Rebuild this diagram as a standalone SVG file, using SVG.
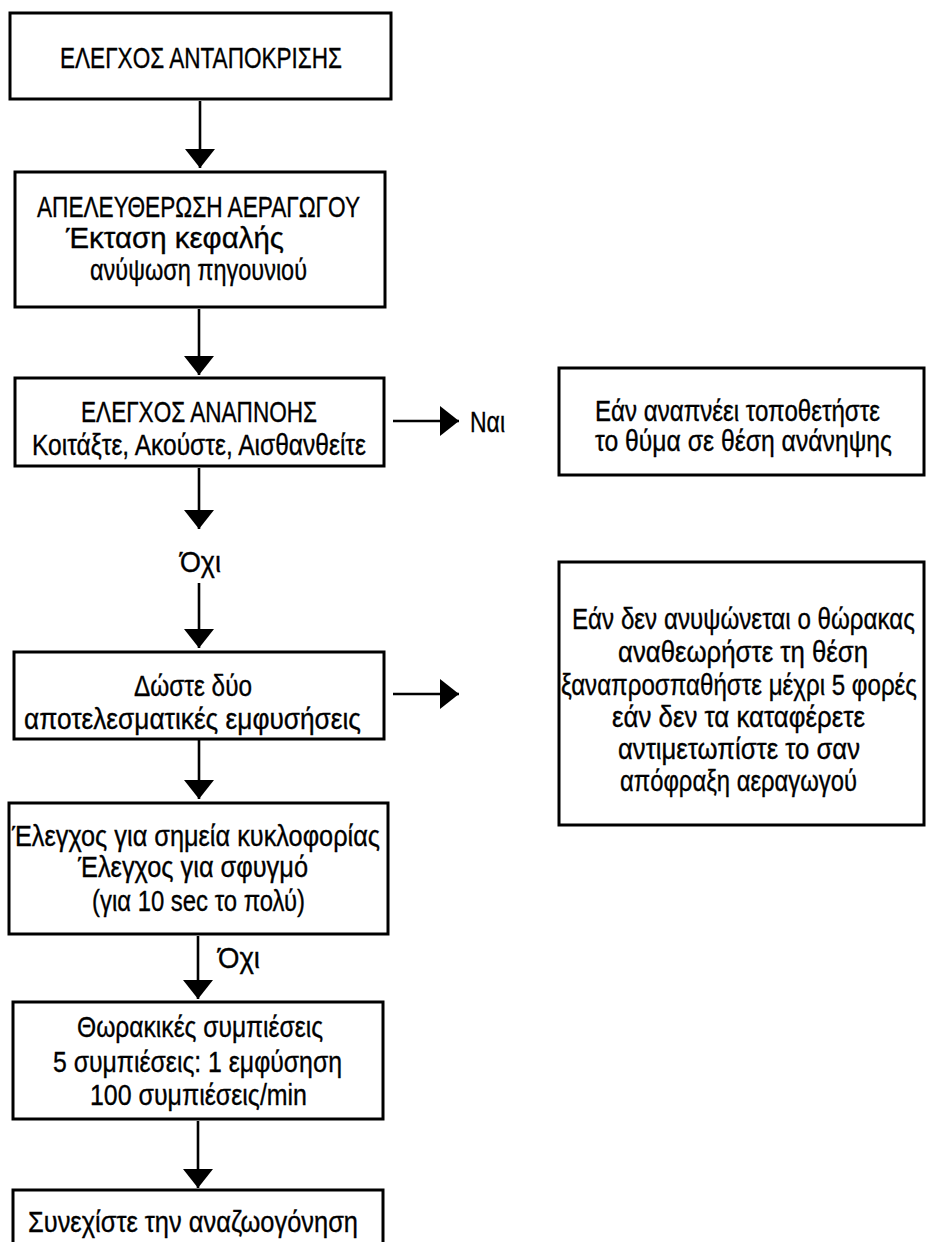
<svg xmlns="http://www.w3.org/2000/svg" width="927" height="1242" viewBox="0 0 927 1242">
<style>
.box{fill:#fff;stroke:#000;stroke-width:3}
.t{font-family:"Liberation Sans Narrow","Liberation Sans",Arial,sans-serif;font-size:29px;fill:#000;stroke:#000;stroke-width:0.35}
.c{stroke:#000;stroke-width:2.6;fill:none}
</style>
<defs>
<marker id="ah" markerUnits="userSpaceOnUse" markerWidth="19" markerHeight="30" viewBox="0 0 19 30" refX="19" refY="15" orient="auto">
<path d="M0,0 L19,15 L0,30 Z" fill="#000"/>
</marker>
</defs>
<rect width="927" height="1242" fill="#fff"/>
<g id="connectors">
<line class="c" x1="200" y1="101" x2="200" y2="168" marker-end="url(#ah)"/>
<line class="c" x1="199" y1="309" x2="199" y2="375" marker-end="url(#ah)"/>
<line class="c" x1="393" y1="421" x2="459" y2="421" marker-end="url(#ah)"/>
<line class="c" x1="199" y1="468" x2="199" y2="529" marker-end="url(#ah)"/>
<line class="c" x1="199" y1="583" x2="199" y2="648" marker-end="url(#ah)"/>
<line class="c" x1="393" y1="694" x2="459" y2="694" marker-end="url(#ah)"/>
<line class="c" x1="199" y1="740" x2="199" y2="799" marker-end="url(#ah)"/>
<line class="c" x1="198" y1="936" x2="198" y2="999" marker-end="url(#ah)"/>
<line class="c" x1="198" y1="1121" x2="198" y2="1188" marker-end="url(#ah)"/>
</g>
<g id="n1">
<rect class="box" x="10" y="13" width="381" height="86"/>
<text class="t" x="60" y="68" textLength="282" lengthAdjust="spacingAndGlyphs">ΕΛΕΓΧΟΣ ΑΝΤΑΠΟΚΡΙΣΗΣ</text>
</g>
<g id="n2">
<rect class="box" x="15" y="172" width="370" height="135"/>
<text class="t" x="37" y="217" textLength="323" lengthAdjust="spacingAndGlyphs">ΑΠΕΛΕΥΘΕΡΩΣΗ ΑΕΡΑΓΩΓΟΥ</text>
<text class="t" x="66" y="248" textLength="218" lengthAdjust="spacingAndGlyphs">&#x388;&#x3BA;&#x3C4;&#x3B1;&#x3C3;&#x3B7; &#x3BA;&#x3B5;&#x3C6;&#x3B1;&#x3BB;&#x3AE;&#x3C2;</text>
<text class="t" x="90" y="280" textLength="217" lengthAdjust="spacingAndGlyphs">ανύψωση πηγουνιού</text>
</g>
<g id="n3">
<rect class="box" x="15" y="378" width="369" height="88"/>
<text class="t" x="81" y="422" textLength="236" lengthAdjust="spacingAndGlyphs">ΕΛΕΓΧΟΣ ΑΝΑΠΝΟΗΣ</text>
<text class="t" x="32" y="455" textLength="334" lengthAdjust="spacingAndGlyphs">Κοιτάξτε, Ακούστε, Αισθανθείτε</text>
</g>
<g id="lbl-nai">
<text class="t" x="470" y="432" textLength="35" lengthAdjust="spacingAndGlyphs">Ναι</text>
</g>
<g id="n-right1">
<rect class="box" x="559" y="368" width="365" height="107"/>
<text class="t" x="595" y="421" textLength="285" lengthAdjust="spacingAndGlyphs">Εάν αναπνέει τοποθετήστε</text>
<text class="t" x="595" y="451" textLength="297" lengthAdjust="spacingAndGlyphs">το θύμα σε θέση ανάνηψης</text>
</g>
<g id="lbl-oxi1">
<text class="t" x="180" y="572" textLength="41" lengthAdjust="spacingAndGlyphs">Όχι</text>
</g>
<g id="n4">
<rect class="box" x="14" y="652" width="370" height="87"/>
<text class="t" x="134" y="696" textLength="118" lengthAdjust="spacingAndGlyphs">Δώστε δύο</text>
<text class="t" x="24" y="729" textLength="337" lengthAdjust="spacingAndGlyphs">αποτελεσματικές εμφυσήσεις</text>
</g>
<g id="n-right2">
<rect class="box" x="559" y="562" width="365" height="263"/>
<text class="t" x="572" y="629" textLength="343" lengthAdjust="spacingAndGlyphs">Εάν δεν ανυψώνεται ο θώρακας</text>
<text class="t" x="618" y="662" textLength="250" lengthAdjust="spacingAndGlyphs">αναθεωρήστε τη θέση</text>
<text class="t" x="561" y="695" textLength="356" lengthAdjust="spacingAndGlyphs">ξαναπροσπαθήστε μέχρι 5 φορές</text>
<text class="t" x="612" y="727" textLength="253" lengthAdjust="spacingAndGlyphs">εάν δεν τα καταφέρετε</text>
<text class="t" x="618" y="759" textLength="242" lengthAdjust="spacingAndGlyphs">αντιμετωπίστε το σαν</text>
<text class="t" x="620" y="791" textLength="237" lengthAdjust="spacingAndGlyphs">απόφραξη αεραγωγού</text>
</g>
<g id="n5">
<rect class="box" x="9" y="803" width="379" height="131"/>
<text class="t" x="12" y="846" textLength="368" lengthAdjust="spacingAndGlyphs">Έλεγχος για σημεία κυκλοφορίας</text>
<text class="t" x="78" y="877" textLength="230" lengthAdjust="spacingAndGlyphs">Έλεγχος για σφυγμό</text>
<text class="t" x="92" y="911" textLength="213" lengthAdjust="spacingAndGlyphs">(για 10 sec το πολύ)</text>
</g>
<g id="lbl-oxi2">
<text class="t" x="218" y="968" textLength="42" lengthAdjust="spacingAndGlyphs">Όχι</text>
</g>
<g id="n6">
<rect class="box" x="13" y="1002" width="370" height="117"/>
<text class="t" x="77" y="1037" textLength="246" lengthAdjust="spacingAndGlyphs">Θωρακικές συμπιέσεις</text>
<text class="t" x="53" y="1072" textLength="289" lengthAdjust="spacingAndGlyphs">5 συμπιέσεις: 1 εμφύσηση</text>
<text class="t" x="90" y="1105" textLength="217" lengthAdjust="spacingAndGlyphs">100 συμπιέσεις/min</text>
</g>
<g id="n7">
<rect class="box" x="13" y="1190" width="370" height="70"/>
<text class="t" x="28" y="1232" textLength="330" lengthAdjust="spacingAndGlyphs">Συνεχίστε την αναζωογόνηση</text>
</g>
</svg>
